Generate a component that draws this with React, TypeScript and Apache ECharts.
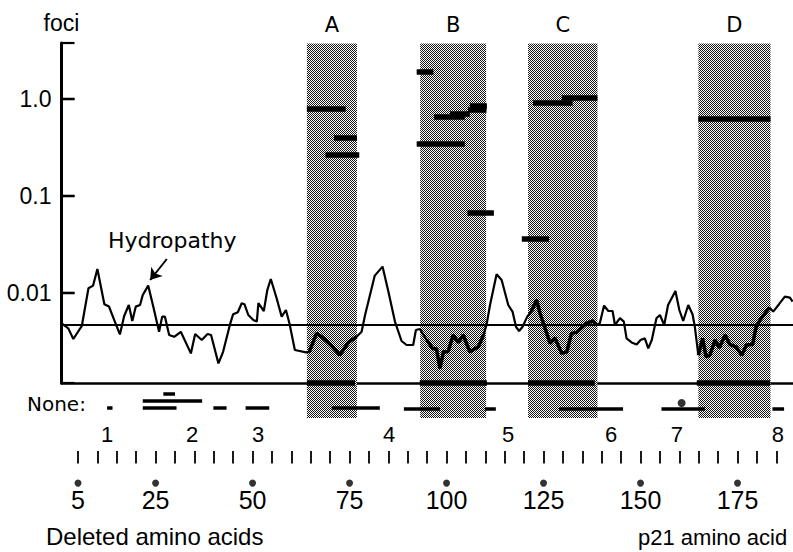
import React, { useEffect, useRef } from 'react';
import * as echarts from 'echarts';

// ---------- data ----------
// hydropathy profile: [p21 amino acid, hydropathy]
const HYDROPATHY: [number, number][] = [
  [0.8, 0.08], [2.5, -0.17], [3.8, -0.7], [6.0, -0.04], [7.7, 1.84], [8.9, 1.97], [10.0, 2.8], [11.8, 1.04],
  [13.0, 0.92], [14.5, 0.17], [15.8, -0.47], [16.9, 0.45], [18.1, 1.0], [19.0, 0.2], [19.9, 0.92], [21.0, 1.0],
  [21.7, 1.5], [23.1, 1.97], [24.4, 0.92], [25.9, -0.34], [26.7, 0.42], [27.4, 0.42], [28.5, -0.5], [29.8, -0.59],
  [31.5, -0.34], [34.1, -1.42], [35.2, -0.45], [36.9, -0.75], [38.4, -0.45], [39.3, -0.5], [41.2, -1.92], [42.4, -1.34],
  [44.2, 0.04], [45.0, 0.54], [46.2, 0.64], [47.2, 1.09], [47.9, 1.04], [48.9, 0.5], [50.2, 0.25], [51.1, 0.17],
  [51.5, 1.09], [52.9, 0.7], [53.8, 1.75], [54.7, 2.3], [56.2, 1.34], [57.5, 0.42], [58.6, 0.75], [59.5, 0.09],
  [60.9, -1.25], [63.8, -1.37], [64.6, -1.34], [66.5, -0.42], [67.8, -0.59], [70.0, -0.97], [72.5, -1.5], [74.7, -0.87],
  [76.8, -0.59], [78.1, -0.34], [79.0, 0.5], [81.5, 2.47], [83.5, 2.92], [85.0, 1.67], [86.7, 0.17], [88.4, -0.8],
  [89.7, -1.0], [91.4, -1.0], [92.1, -0.25], [93.1, -0.2], [94.9, -0.75], [96.4, -1.17], [97.4, -1.2], [98.3, -2.17],
  [99.2, -1.34], [100.4, -1.34], [101.7, -0.5], [103.0, -0.87], [104.3, -0.5], [106.0, -1.34], [108.2, -1.09], [109.5, -0.5],
  [110.3, 0], [111.2, 1.0], [112.9, 2.54], [114.2, 2.25], [115.9, 1.0], [117.0, 0.67], [117.9, -0.09], [118.7, -0.3],
  [119.6, -0.09], [120.8, 0.42], [121.9, 0.7], [123.2, 1.25], [124.1, 0.59], [125.4, -0.17], [126.7, -0.92], [127.9, -0.64],
  [129.7, -1.42], [131.0, -1.34], [132.2, -0.42], [133.5, -0.37], [134.8, -0.14], [136.1, 0.09], [137.7, 0.2], [138.7, 0],
  [139.5, 0.09], [140.6, 0.97], [141.7, 0.7], [142.8, 0.7], [143.4, 0], [144.7, 0.34], [145.7, 0.17], [146.4, -0.67],
  [147.7, -0.87], [149.0, -0.97], [150.0, -0.75], [151.1, -0.67], [152.0, -1.17], [152.9, -0.75], [154.1, 0.34], [155.0, 0.5],
  [156.1, 0], [157.1, 1.0], [159.0, 1.7], [160.0, 0.75], [161.0, 0.2], [162.3, 1.0], [163.4, 0.54], [164.0, -0.09],
  [164.9, -1.5], [166.0, -0.67], [166.9, -1.59], [167.9, -1.5], [169.2, -0.75], [170.3, -1.14], [171.8, -0.5], [173.0, -0.97],
  [174.6, -1.09], [176.1, -1.5], [177.3, -1.0], [178.9, -0.97], [179.7, -0.17], [180.8, 0.25], [182.1, 0.59], [183.2, 0.87],
  [184.2, 0.67], [185.7, 1.04], [187.2, 1.42], [188.5, 1.37], [189.2, 1.17],
];

// deletion mutants giving foci (start aa, end aa, relative foci)
const FOCI_START = [64.0, 71.0, 68.8, 92.3, 96.8, 100.9, 105.5, 106.0, 92.3, 105.4, 119.4, 122.3, 129.7, 164.9];
const FOCI_END = [74.0, 76.9, 77.5, 96.6, 104.7, 106.0, 110.3, 110.4, 104.7, 112.2, 126.4, 132.5, 138.9, 183.5];
const FOCI_VALUE = [0.79, 0.40, 0.265, 1.91, 0.65, 0.71, 0.77, 0.86, 0.344, 0.067, 0.036, 0.916, 1.04, 0.62];

// mutants with foci below detection (drawn on the base line)
const BASE_START = [64.0, 93.1, 121.0, 164.5];
const BASE_END = [76.4, 110.4, 138.2, 183.4];

// mutants with no foci ("None:" row)
const NONE_START = [12.5, 21.7, 21.7, 27.0, 39.9, 48.2, 70.4, 89.0, 109.9, 129.0, 155.4, 184.0];
const NONE_END = [13.9, 37.0, 30.4, 30.0, 43.3, 54.3, 82.8, 98.3, 112.7, 145.5, 166.6, 187.0];
const NONE_LANE = [0, 1, 0, 2, 0, 0, 0, -0.2, -0.2, -0.2, -0.2, -0.2];
const NONE_POINT_AA = [160.6];

// shaded regions
const REGION_NAMES = ['A', 'B', 'C', 'D'];
const REGION_START = [64.0, 93.2, 121.0, 164.9];
const REGION_END = [76.9, 110.2, 138.9, 183.5];

// numbered mutants
const MUTANT_LABELS = ['1', '2', '3', '4', '5', '6', '7', '8'];
const MUTANT_POS = [12.5, 34.4, 51.4, 85.2, 115.9, 142.4, 159.4, 185.4];

// axis ticks
const AA_TICKS = [5, 10, 15, 20, 25, 30, 35, 40, 45, 50, 55, 60, 65, 70, 75, 80, 85, 90, 95, 100,
  105, 110, 115, 120, 125, 130, 135, 140, 145, 150, 155, 160, 165, 170, 175, 180, 185];
const AA_LABELS = [5, 25, 50, 75, 100, 125, 150, 175];
const Y_TICKS = [0.01, 0.1, 1];
const Y_TICK_LABELS = ['0.01', '0.1', '1.0'];

// ---------- layout ----------
const X_MIN = 0.75, X_MAX = 189.3;
const FOCI_MIN = 0.00118, FOCI_MAX = 3.78;
const H_MIN = -2.9, H_MAX = 14.1;
const ROW_MIN = -20, ROW_MAX = 52;
const SHADE_BOTTOM = -1.5;
const BASE_ROW = 3.5;
const DOT_ROW = -10.8;
const NONE_POINT_ROW = 0.65;
const Y_TICK_PX = 13;
const Y_LABEL_GAP = 10;

const SANS = '"Liberation Sans", Arial, sans-serif';
const WIDE = '"DejaVu Sans", sans-serif';
const NARROW = '"Liberation Sans Narrow", "Liberation Sans", sans-serif';

function makePattern() {
  const c = document.createElement('canvas');
  c.width = 2; c.height = 2;
  const g = c.getContext('2d')!;
  g.fillStyle = '#ffffff'; g.fillRect(0, 0, 2, 2);
  g.fillStyle = '#141414'; g.fillRect(0, 0, 1, 1); g.fillRect(1, 1, 1, 1);
  return { image: c, repeat: 'repeat' } as any;
}

export default function App() {
  const ref = useRef<HTMLDivElement>(null);
  useEffect(() => {
    const chart = echarts.init(ref.current!, undefined, { renderer: 'svg' });
    const pattern = makePattern();

    const xBase = { type: 'value', min: X_MIN, max: X_MAX, splitLine: { show: false } };
    const nearestIdx = (arr: number[], v: number) => {
      let best = 0;
      arr.forEach((a, i) => { if (Math.abs(a - v) < Math.abs(arr[best] - v)) best = i; });
      return best;
    };
    const isYTick = (v: number) => Y_TICKS.some(t => Math.abs(Math.log10(t) - Math.log10(v)) < 0.01);

    const overlaySeries = REGION_START.map((s, i) => ({
      type: 'line', xAxisIndex: 0, yAxisIndex: 1, z: 4, silent: true,
      symbol: 'none', data: HYDROPATHY.filter(p => p[0] >= s && p[0] <= REGION_END[i]),
      lineStyle: { color: '#000', width: 3.5 },
      ...(i === 0 ? {
        markLine: {
          silent: true, symbol: ['none', 'arrow'], symbolSize: 11,
          label: { show: false },
          lineStyle: { color: '#000', width: 2, type: 'solid' },
          data: [[{ coord: [27.9, 3.3] }, { coord: [23.6, 2.25] }]],
        },
      } : {}),
    }));

    const option: any = {
      animation: false,
      backgroundColor: '#fff',
      textStyle: { fontFamily: SANS, color: '#000' },
      grid: [
        { left: 61.5, top: 43, width: 731.5, height: 340, containLabel: false, outerBoundsMode: 'none' },
        { left: 61.5, top: 43.5, width: 731.5, height: 504, containLabel: false, outerBoundsMode: 'none' },
      ],
      xAxis: [
        { ...xBase, gridIndex: 0, position: 'bottom',
          axisLine: { show: true, onZero: false, lineStyle: { color: '#000', width: 2.5 } },
          axisTick: { show: false }, axisLabel: { show: false } },
        { ...xBase, gridIndex: 1, show: false, axisLine: { onZero: false } },
        { ...xBase, gridIndex: 0, position: 'bottom', offset: 35,
          axisLine: { show: false, onZero: false }, axisTick: { show: false },
          axisLabel: { show: true, customValues: MUTANT_POS, margin: 5, color: '#000', fontSize: 22, fontFamily: SANS,
            formatter: (v: number) => MUTANT_LABELS[nearestIdx(MUTANT_POS, v)] } },
        { ...xBase, gridIndex: 0, position: 'bottom', offset: 68,
          axisLine: { show: false, onZero: false },
          axisTick: { show: true, customValues: AA_TICKS, length: 12.5, lineStyle: { color: '#000', width: 1.8 } },
          axisLabel: { show: false } },
        { ...xBase, gridIndex: 0, position: 'bottom', offset: 100,
          axisLine: { show: false, onZero: false }, axisTick: { show: false },
          axisLabel: { show: true, customValues: AA_LABELS, margin: 4.5, color: '#000', fontSize: 25, fontFamily: NARROW,
            formatter: (v: number) => String(AA_LABELS[nearestIdx(AA_LABELS, v)]) } },
      ],
      yAxis: [
        { type: 'log', logBase: 10, gridIndex: 0, min: FOCI_MIN, max: FOCI_MAX, position: 'left',
          name: 'foci', nameLocation: 'end', nameGap: 9,
          nameTextStyle: { color: '#000', fontSize: 23, fontFamily: SANS, align: 'center' },
          axisLine: { show: true, onZero: false, lineStyle: { color: '#000', width: 3 } },
          axisTick: { show: true, inside: true, length: Y_TICK_PX, lineStyle: { color: '#000', width: 2.2 } },
          minorTick: { show: false },
          splitLine: { show: false },
          // each label carries its own inward tick mark: "1.0" + gap + black bar crossing the axis line
          axisLabel: {
            show: true, customValues: Y_TICKS, margin: -Y_TICK_PX, color: '#000',
            formatter: (v: number) => isYTick(v)
              ? `{n|${Y_TICK_LABELS[nearestIdx(Y_TICKS.map(t => Math.log10(t)), Math.log10(v))]}}{g|}{t|}`
              : '',
            rich: {
              n: { fontSize: 23, fontFamily: SANS, color: '#000', verticalAlign: 'middle' },
              g: { width: Y_LABEL_GAP, height: 2, verticalAlign: 'middle' },
              t: { width: Y_TICK_PX, height: 2.4, backgroundColor: '#000', verticalAlign: 'middle' },
            },
          } },
        { type: 'value', gridIndex: 0, min: H_MIN, max: H_MAX, show: false, splitLine: { show: false } },
        { type: 'value', gridIndex: 1, min: ROW_MIN, max: ROW_MAX, show: false, splitLine: { show: false } },
      ],
      series: [
        {
          type: 'custom', xAxisIndex: 1, yAxisIndex: 2, z: 1, silent: true,
          data: REGION_NAMES.map((n, i) => [REGION_START[i], REGION_END[i], i]),
          renderItem: (params: any, api: any) => {
            const s = api.value(0), e = api.value(1), idx = api.value(2);
            const p0 = api.coord([s, ROW_MAX]);
            const p1 = api.coord([e, SHADE_BOTTOM]);
            return {
              type: 'group',
              children: [
                { type: 'rect', shape: { x: p0[0], y: p0[1], width: p1[0] - p0[0], height: p1[1] - p0[1] },
                  style: { fill: pattern } },
                { type: 'text', x: (p0[0] + p1[0]) / 2, y: p0[1] - 18.5,
                  style: { text: REGION_NAMES[idx], fill: '#000', fontSize: 21, fontFamily: WIDE,
                    align: 'center', verticalAlign: 'middle', textAlign: 'center', textVerticalAlign: 'middle' } },
              ],
            };
          },
        },
        {
          type: 'line', xAxisIndex: 0, yAxisIndex: 1, z: 3, silent: true,
          symbol: 'none', data: HYDROPATHY,
          lineStyle: { color: '#000', width: 2.2 },
          markLine: {
            silent: true, symbol: 'none', label: { show: false },
            lineStyle: { color: '#000', width: 2, type: 'solid' },
            data: [{ yAxis: 0 }],
          },
        },
        ...overlaySeries,
        {
          type: 'lines', coordinateSystem: 'cartesian2d', xAxisIndex: 0, yAxisIndex: 0, z: 5, silent: true,
          data: FOCI_START.map((s, i) => ({ coords: [[s, FOCI_VALUE[i]], [FOCI_END[i], FOCI_VALUE[i]]] })),
          lineStyle: { color: '#000', width: 5.5, opacity: 1, curveness: 0 },
        },
        {
          type: 'lines', coordinateSystem: 'cartesian2d', xAxisIndex: 1, yAxisIndex: 2, z: 5, silent: true,
          data: BASE_START.map((s, i) => ({ coords: [[s, BASE_ROW], [BASE_END[i], BASE_ROW]] })),
          lineStyle: { color: '#000', width: 5.5, opacity: 1, curveness: 0 },
        },
        {
          type: 'lines', coordinateSystem: 'cartesian2d', xAxisIndex: 1, yAxisIndex: 2, z: 5, silent: true,
          data: NONE_START.map((s, i) => ({ coords: [[s, NONE_LANE[i]], [NONE_END[i], NONE_LANE[i]]] })),
          lineStyle: { color: '#000', width: 3.5, opacity: 1, curveness: 0 },
        },
        {
          type: 'scatter', xAxisIndex: 1, yAxisIndex: 2, z: 6, silent: true,
          symbol: 'circle', symbolSize: 8,
          data: NONE_POINT_AA.map(a => [a, NONE_POINT_ROW]),
          itemStyle: { color: '#000' },
        },
        {
          type: 'scatter', xAxisIndex: 1, yAxisIndex: 2, z: 6, silent: true,
          symbol: 'circle', symbolSize: 7,
          data: AA_LABELS.map(a => [a, DOT_ROW]),
          itemStyle: { color: '#000' },
        },
      ],
      graphic: [
        { type: 'text', x: 108, y: 240.5, silent: true,
          style: { text: 'Hydropathy', fill: '#000', fontSize: 22, fontFamily: WIDE,
            verticalAlign: 'middle', textVerticalAlign: 'middle' } },
        { type: 'text', x: 27, y: 403.5, silent: true,
          style: { text: 'None:', fill: '#000', fontSize: 20, fontFamily: WIDE,
            verticalAlign: 'middle', textVerticalAlign: 'middle' } },
        { type: 'text', x: 46, y: 536, silent: true,
          style: { text: 'Deleted amino acids', fill: '#000', fontSize: 24, fontFamily: SANS,
            verticalAlign: 'middle', textVerticalAlign: 'middle' } },
        { type: 'text', x: 638, y: 537, silent: true,
          style: { text: 'p21 amino acid', fill: '#000', fontSize: 22, fontFamily: SANS,
            verticalAlign: 'middle', textVerticalAlign: 'middle' } },
      ],
    };
    chart.setOption(option);
    return () => chart.dispose();
  }, []);
  return <div ref={ref} style={{ position: 'absolute', left: 0, top: 0, width: 793, height: 552, background: '#fff' }} />;
}
